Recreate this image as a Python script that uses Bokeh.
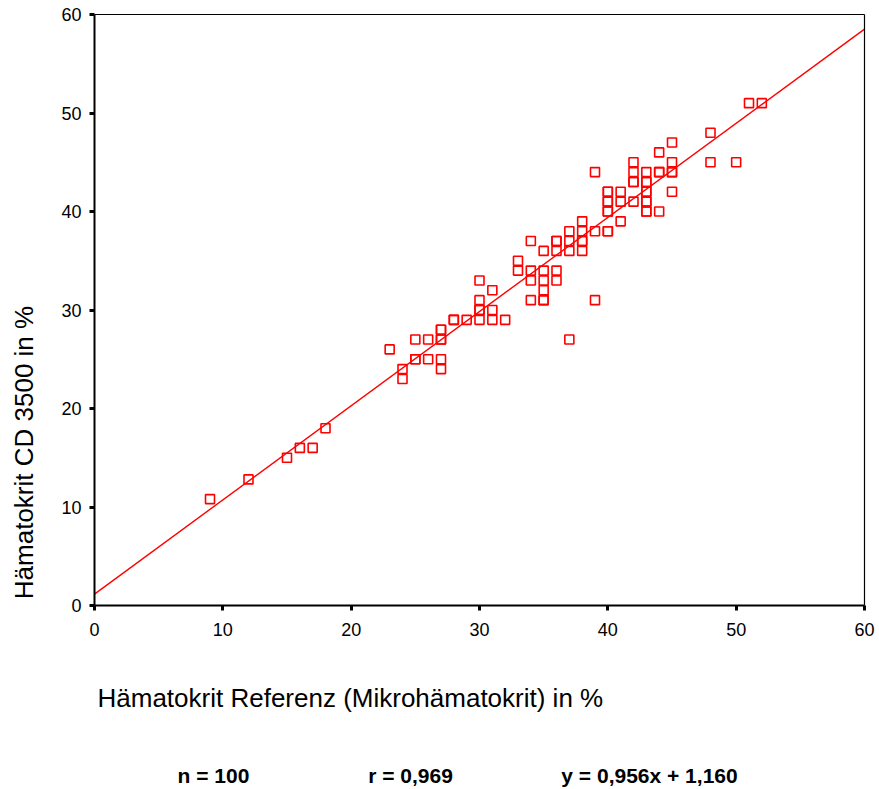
from bokeh.plotting import figure
from bokeh.models import Label, Range1d, FixedTicker, LinearAxis
from bokeh.embed import file_html
from bokeh.resources import INLINE
import math

# Data
ref_x = [9, 12, 15, 16, 17, 18,
         23,
         24, 24,
         25, 25, 25,
         26, 26,
         27, 27, 27, 27, 27, 27,
         28, 28,
         29,
         30, 30, 30, 30, 30,
         31, 31, 31,
         32,
         33, 33,
         34, 34, 34, 34,
         35, 35, 35, 35, 35, 35,
         36, 36, 36, 36, 36,
         37, 37, 37, 37,
         38, 38, 38, 38, 38,
         39, 39, 39,
         40, 40, 40, 40, 40, 40, 40, 40,
         41, 41, 41,
         42, 42, 42, 42, 42,
         43, 43, 43, 43, 43, 43, 43, 43, 43,
         44, 44, 44, 44,
         45, 45, 45, 45, 45,
         48, 48,
         50,
         51,
         52]
cd_y = [10.8, 12.8, 15, 16, 16, 18,
        26,
        24, 23,
        25, 27, 25,
        27, 25,
        28, 27, 25, 24, 28, 27,
        29, 29,
        29,
        33, 31, 30, 29, 30,
        32, 30, 29,
        29,
        35, 34,
        37, 34, 33, 31,
        36, 34, 33, 32, 31, 31,
        37, 36, 34, 33, 37,
        38, 37, 36, 27,
        39, 38, 37, 36, 37,
        44, 38, 31,
        42, 41, 40, 38, 42, 41, 40, 38,
        42, 41, 39,
        45, 44, 43, 41, 43,
        44, 43, 42, 41, 40, 43, 42, 41, 40,
        46, 44, 40, 44,
        47, 45, 44, 42, 44,
        48, 45,
        45,
        51,
        51]

slope = 0.956
intercept = 1.160
axis_min, axis_max = 0, 60
fit_x = [axis_min, axis_max]
fit_y = [intercept + slope * v for v in fit_x]

ticks = [0, 10, 20, 30, 40, 50, 60]
x_title = "Hämatokrit Referenz (Mikrohämatokrit) in %"
y_title = "Hämatokrit CD 3500 in %"
stats = ["n = 100", "r = 0,969", "y = 0,956x + 1,160"]

FONT = "Liberation Sans"

W, H = 879, 789
# plot box in canvas pixels
BOX_L, BOX_R, BOX_T, BOX_B = 94, 864, 14, 605
sx = (BOX_R - BOX_L) / (axis_max - axis_min)
sy = (BOX_B - BOX_T) / (axis_max - axis_min)
x_range = Range1d(axis_min - BOX_L / sx, axis_max + (W - BOX_R) / sx)
y_range = Range1d(axis_min - (H - BOX_B) / sy, axis_max + BOX_T / sy)

p = figure(width=W, height=H,
           min_border_left=0, min_border_right=0,
           min_border_top=0, min_border_bottom=0,
           x_range=x_range, y_range=y_range,
           x_axis_type=None, y_axis_type=None,
           output_backend="svg", toolbar_location=None,
           background_fill_color="white", border_fill_color="white")

p.grid.visible = False
p.outline_line_color = None


def style_axis(ax, labels=True):
    ax.ticker = FixedTicker(ticks=ticks)
    ax.bounds = (axis_min, axis_max)
    ax.axis_line_color = "black"
    ax.minor_tick_line_color = None
    if labels:
        ax.axis_line_width = 2
        ax.major_tick_line_color = "black"
        ax.major_tick_line_width = 3
        ax.major_tick_out = 5
        ax.major_tick_in = 0
        ax.major_label_text_font = FONT
        ax.major_label_text_font_size = "18px"
        ax.major_label_text_color = "black"
    else:
        ax.axis_line_width = 1.2
        ax.major_tick_line_color = None
        ax.major_label_text_color = None
        ax.major_label_text_font_size = "1px"


xax = LinearAxis(fixed_location=axis_min)
style_axis(xax)
xax.major_label_standoff = 12
p.add_layout(xax, "below")

yax = LinearAxis(fixed_location=axis_min)
style_axis(yax)
yax.major_label_standoff = 8
p.add_layout(yax, "left")

top_ax = LinearAxis(fixed_location=axis_max)
style_axis(top_ax, labels=False)
p.add_layout(top_ax, "above")

right_ax = LinearAxis(fixed_location=axis_max)
style_axis(right_ax, labels=False)
p.add_layout(right_ax, "right")

# regression line
p.line(fit_x, fit_y, line_color="#ff0000", line_width=1.4)

# data points
p.scatter(ref_x, cd_y, marker="square", size=9, line_color="#ff0000",
          line_width=1.6, fill_alpha=0)

# axis titles and statistics as labels (screen px from bottom-left)
p.add_layout(Label(x=97, y=H - 697, x_units="screen", y_units="screen",
                   text=x_title, text_font=FONT, text_font_size="26px",
                   text_color="black", text_align="left",
                   text_baseline="middle"))
p.add_layout(Label(x=23, y=H - 452, x_units="screen", y_units="screen",
                   text=y_title, text_font=FONT, text_font_size="26px",
                   text_color="black", text_align="center",
                   text_baseline="middle", angle=math.pi / 2))

stat_x = [213, 410, 649]
for cx, s in zip(stat_x, stats):
    p.add_layout(Label(x=cx, y=H - 775, x_units="screen", y_units="screen",
                       text=s, text_font=FONT, text_font_size="21px",
                       text_font_style="bold", text_color="black",
                       text_align="center", text_baseline="middle"))

open("out.html", "w").write(file_html(p, INLINE))
